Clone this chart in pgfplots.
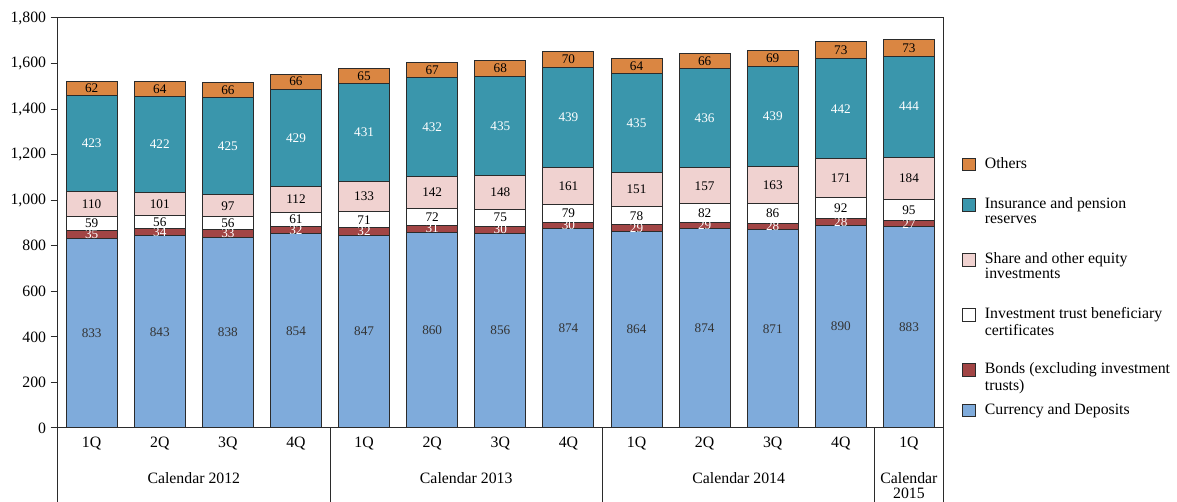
\documentclass[border=0pt]{standalone}
\usepackage{pgfplots}
\usepackage{pgfplotstable}
\usepackage{fontspec}
\setmainfont{Liberation Serif}
\pgfplotsset{compat=1.18}

\definecolor{cCur}{HTML}{7FABDB}
\definecolor{cBond}{HTML}{A24545}
\definecolor{cTrust}{HTML}{FFFFFF}
\definecolor{cShare}{HTML}{F0D2D0}
\definecolor{cIns}{HTML}{3A96AC}
\definecolor{cOth}{HTML}{DA8642}
\definecolor{cLine}{HTML}{2B2B2B}

% Household financial assets (trillion yen), quarterly
\pgfplotstableread{
q  cur  bond trust share ins oth
0  833  35   59    110   423 62
1  843  34   56    101   422 64
2  838  33   56    97    425 66
3  854  32   61    112   429 66
4  847  32   71    133   431 65
5  860  31   72    142   432 67
6  856  30   75    148   435 68
7  874  30   79    161   439 70
8  864  29   78    151   435 64
9  874  29   82    157   436 66
10 871  28   86    163   439 69
11 890  28   92    171   442 73
12 883  27   95    184   444 73
}\assets

% two-line legend text; the optional rule leaves room for the entry above
\newcommand{\LE}[3][0pt]{\rule{0pt}{#1}\parbox[t]{195pt}{\raggedright\strut #2\\#3\strut}}

\pgfplotsset{
  frame/.style={
    scale only axis, width=885.4pt, height=410pt,
    at={(0,0)}, anchor=south west,
    xmin=-0.5, xmax=12.5, ymin=0, ymax=1800,
  },
  leg/.style={legend image code/.code={%
    \draw[##1,draw=cLine,line width=0.9pt] (0pt,-2.5pt) rectangle (13pt,10pt);}},
  seg/.style={fill=#1, draw=cLine, line width=1pt, leg},
}

\begin{document}
\begin{tikzpicture}[font=\fontsize{15.8}{15}\selectfont]
\path[use as bounding box] (-57.6pt,-74pt) rectangle (1119.4pt,428pt);
\begin{axis}[
  frame, clip=false,
  ybar stacked, bar width=51pt,
  axis line style={cLine, line width=1pt},
  tick align=outside, tick pos=left,
  ytick={0,200,...,1800},
  major tick length=7pt,
  ytick style={cLine, line width=1pt},
  xtick={0,...,12},
  xticklabels={1Q,2Q,3Q,4Q,1Q,2Q,3Q,4Q,1Q,2Q,3Q,4Q,1Q},
  xtick style={draw=none},
  minor xtick={0.5,1.5,2.5,4.5,5.5,6.5,8.5,9.5,10.5},
  minor tick length=23pt,
  minor x tick style={cLine, line width=1pt},
  extra x ticks={-0.5,3.5,7.5,11.5,12.5},
  extra x tick labels={},
  extra x tick style={major tick length=74pt, xtick style={draw=cLine, line width=1pt}},
  x tick label style={yshift=1.5pt},
  /pgf/number format/assume math mode=true,
  /pgf/number format/1000 sep={,},
  yticklabel style={xshift=-1pt},
  reverse legend,
  legend cell align=left,
  legend style={at={(1.0215,0.6598)}, anchor=north west,
    draw=none, fill=none, inner sep=0pt, outer sep=0pt,
    row sep=26.5pt, column sep=9pt,
    nodes={anchor=base west, inner sep=0pt}},
]
\addplot[seg=cCur]   table[x=q, y=cur]   {\assets};
\addlegendentry{Currency and Deposits}
\addplot[seg=cBond]  table[x=q, y=bond]  {\assets};
\addlegendentry{\LE[25.5pt]{Bonds (excluding investment}{trusts)}}
\addplot[seg=cTrust] table[x=q, y=trust] {\assets};
\addlegendentry{\LE[25.5pt]{Investment trust beneficiary}{certificates}}
\addplot[seg=cShare] table[x=q, y=share] {\assets};
\addlegendentry{\LE[25.5pt]{Share and other equity}{investments}}
\addplot[seg=cIns]   table[x=q, y=ins]   {\assets};
\addlegendentry{\LE{Insurance and pension}{reserves}}
\addplot[seg=cOth]   table[x=q, y=oth]   {\assets};
\addlegendentry{\strut Others}

% year groups under the quarter labels
\node at (axis cs:1.5,0) [yshift=-50pt] {Calendar 2012};
\node at (axis cs:5.5,0) [yshift=-50pt] {Calendar 2013};
\node at (axis cs:9.5,0) [yshift=-50pt] {Calendar 2014};
\node[align=center] at (axis cs:12,0) [yshift=-58pt] {Calendar\\2015};
\end{axis}

% segment values, centred in each segment
\begin{axis}[
  frame, hide axis,
  /pgf/number format/assume math mode=true,
  nodes near coords,
  every node near coord/.append style={anchor=center, font=\fontsize{13.2}{13}\selectfont},
]
\addplot[draw=none, mark=none, nodes near coords, point meta=explicit,
  every node near coord/.append style={text=black!80}]
  table[x=q, y expr=0.5*\thisrow{cur}, meta=cur] {\assets};
\addplot[draw=none, mark=none, nodes near coords, point meta=explicit,
  every node near coord/.append style={text=white}]
  table[x=q, y expr=\thisrow{cur}+0.5*\thisrow{bond}, meta=bond] {\assets};
\addplot[draw=none, mark=none, nodes near coords, point meta=explicit,
  every node near coord/.append style={text=black}]
  table[x=q, y expr=\thisrow{cur}+\thisrow{bond}+0.5*\thisrow{trust}, meta=trust] {\assets};
\addplot[draw=none, mark=none, nodes near coords, point meta=explicit,
  every node near coord/.append style={text=black}]
  table[x=q, y expr=\thisrow{cur}+\thisrow{bond}+\thisrow{trust}+0.5*\thisrow{share}, meta=share] {\assets};
\addplot[draw=none, mark=none, nodes near coords, point meta=explicit,
  every node near coord/.append style={text=white}]
  table[x=q, y expr=\thisrow{cur}+\thisrow{bond}+\thisrow{trust}+\thisrow{share}+0.5*\thisrow{ins}, meta=ins] {\assets};
\addplot[draw=none, mark=none, nodes near coords, point meta=explicit,
  every node near coord/.append style={text=black}]
  table[x=q, y expr=\thisrow{cur}+\thisrow{bond}+\thisrow{trust}+\thisrow{share}+\thisrow{ins}+0.5*\thisrow{oth}, meta=oth] {\assets};
\end{axis}
\end{tikzpicture}
\end{document}
